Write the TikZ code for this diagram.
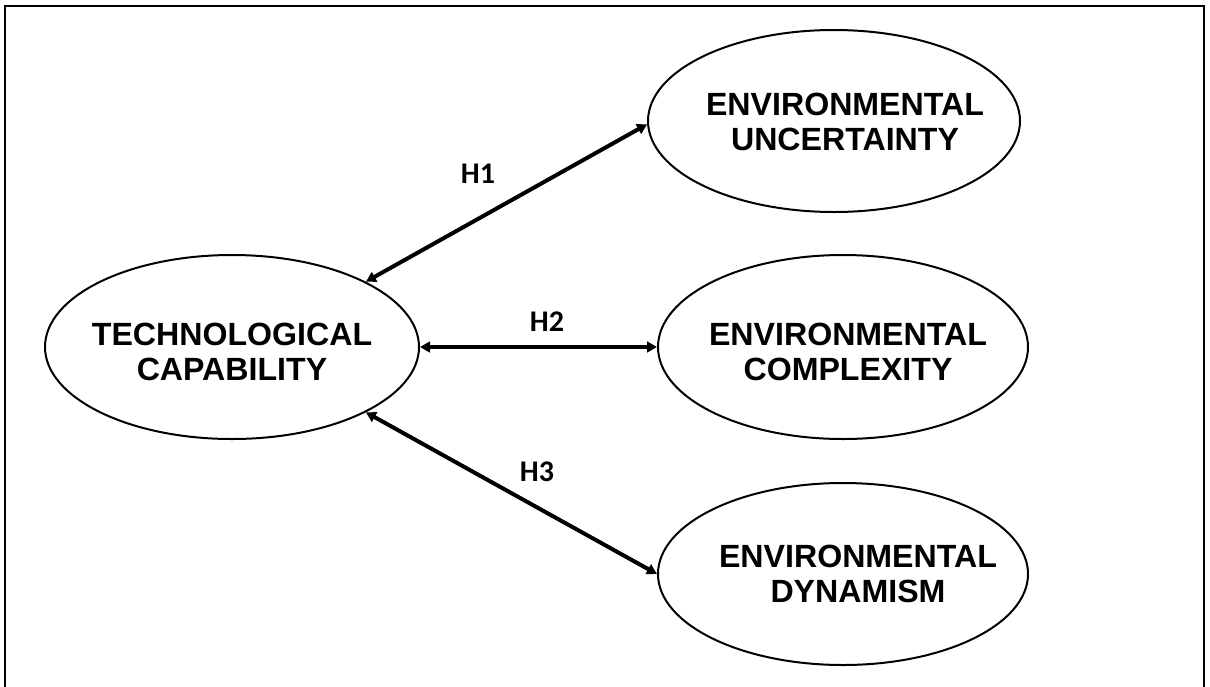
\documentclass[tikz,border=0pt]{standalone}
\usepackage{fontspec}
\setmainfont{Liberation Sans}
\newfontfamily\labfont{Carlito}
\usetikzlibrary{shapes.geometric,arrows.meta}
\begin{document}
\begin{tikzpicture}[x=0.75pt,y=-0.75pt,
  construct/.style={draw, ellipse, line width=1.5pt, inner sep=0pt},
  ctext/.style={align=center, inner sep=0pt, font=\bfseries\fontsize{24.1}{26.3}\selectfont},
  hlabel/.style={inner sep=0pt, font=\labfont\bfseries\fontsize{22.5}{24}\selectfont},
  link/.style={line width=3pt, {Triangle[length=7.5pt,width=8pt]}-{Triangle[length=7.5pt,width=8pt]}},
  frameline/.style={line width=1.6pt}]
\useasboundingbox (0,0) rectangle (1210,686);
% frame
\draw[frameline] (5,690) -- (5,6) -- (1204,6) -- (1204,690);
% ellipses
\node[construct, minimum width=280.5pt, minimum height=138pt] (tc) at (232,347) {};
\node[construct, minimum width=279pt, minimum height=136.5pt] (eu) at (834,121) {};
\node[construct, minimum width=277.5pt, minimum height=138pt] (ec) at (843,347) {};
\node[construct, minimum width=277.5pt, minimum height=136.5pt] (ed) at (843,574) {};
% texts
\node[ctext] (tct) at (232,352) {TECHNOLOGICAL\\CAPABILITY};
\node[ctext] (eut) at (845,122) {ENVIRONMENTAL\\UNCERTAINTY};
\node[ctext] (ect) at (848,352) {ENVIRONMENTAL\\COMPLEXITY};
\node[ctext] (edt) at (858,574) {ENVIRONMENTAL\\DYNAMISM};
% connectors
\draw[link] (tc.26) -- (eu.181);
\draw[link] (tc.east) -- (ec.west);
\draw[link] (tc.-26) -- (ed.west);
% labels
\node[hlabel] (h1) at (478,174) {H1};
\node[hlabel] (h2) at (547,322) {H2};
\node[hlabel] (h3) at (537,472) {H3};
\end{tikzpicture}
\end{document}
